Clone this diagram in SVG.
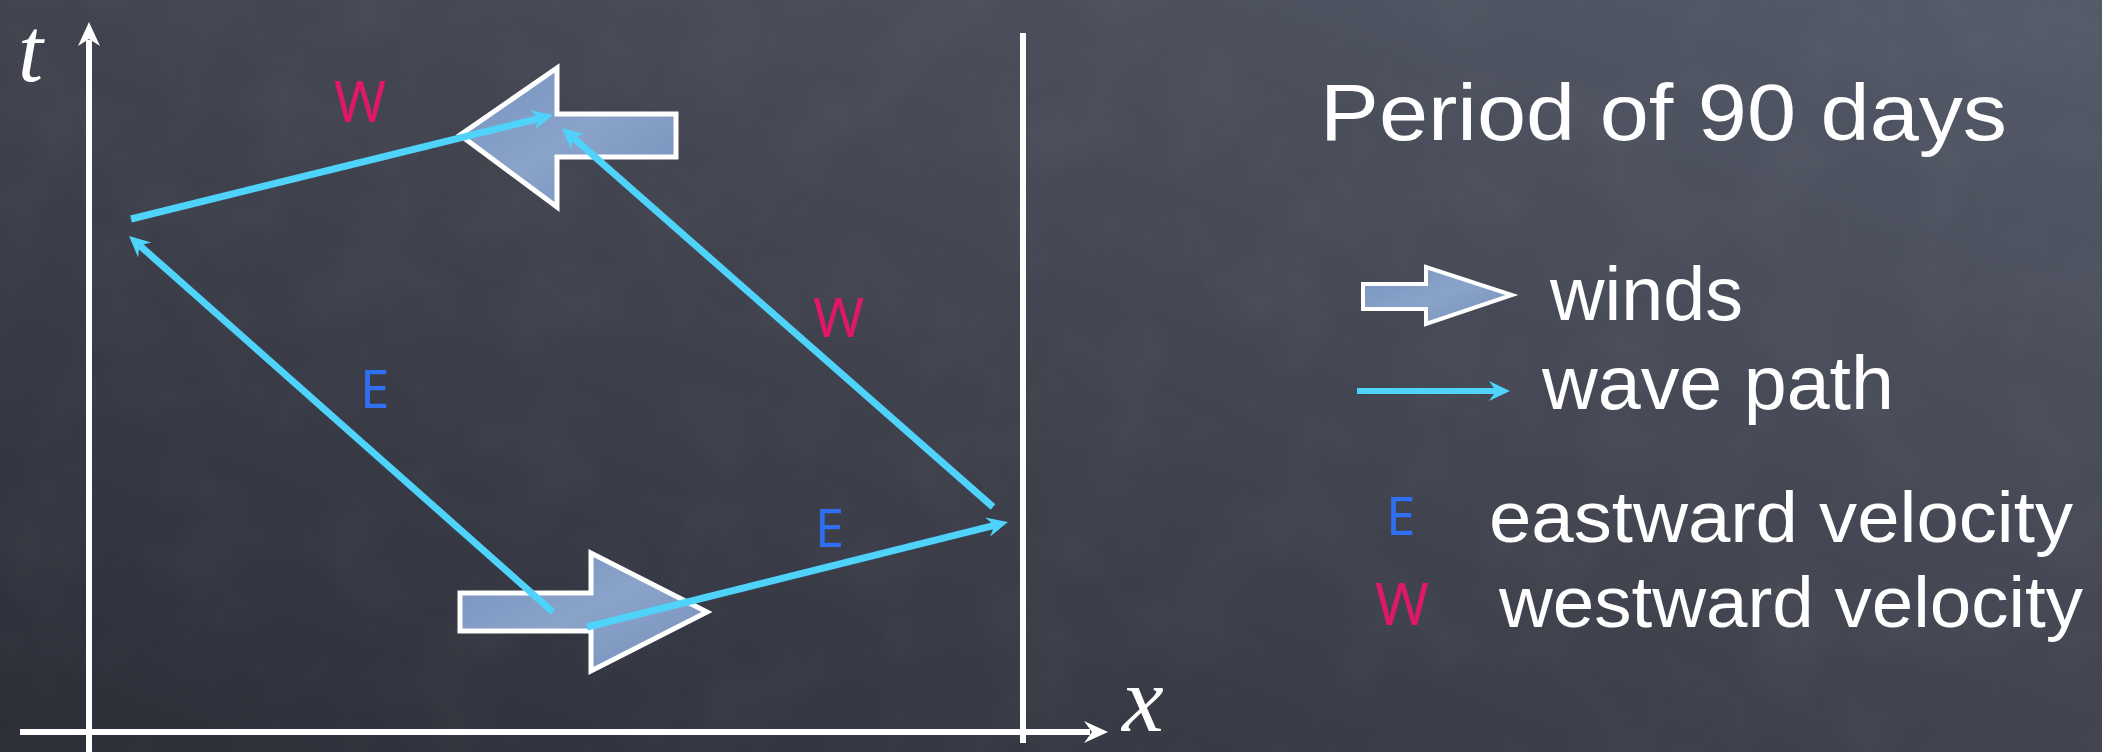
<svg xmlns="http://www.w3.org/2000/svg" width="2102" height="752" viewBox="0 0 2102 752">
<style>
.axis{stroke:#ffffff;stroke-width:6;fill:none}
.wave{stroke:#4fd3fb;stroke-width:7;fill:none;marker-end:url(#wh)}
.wind{fill:url(#wg);stroke:#ffffff;stroke-width:5;stroke-linejoin:miter}
.lbl{font-family:"Noto Sans","DejaVu Sans",sans-serif}
.txt{font-family:"Liberation Sans","Noto Sans",sans-serif;fill:#ffffff}
.e{fill:#2f6ff2}
.w{fill:#e0176a}
.math{font-family:"Liberation Serif",serif;font-style:italic;fill:#ffffff}
</style>
<defs>
<linearGradient id="bg" x1="1" y1="0" x2="0" y2="1">
<stop offset="0" stop-color="#555a69"/>
<stop offset="0.5" stop-color="#41444f"/>
<stop offset="1" stop-color="#2b2d37"/>
</linearGradient>
<linearGradient id="wg" x1="0" y1="0" x2="1" y2="1">
<stop offset="0" stop-color="#7592bf"/>
<stop offset="0.5" stop-color="#8aa3c9"/>
<stop offset="1" stop-color="#7590bb"/>
</linearGradient>
<filter id="chalk" x="0" y="0" width="1" height="1">
<feTurbulence type="fractalNoise" baseFrequency="0.012" numOctaves="4" seed="3"/>
<feColorMatrix type="matrix" values="0 0 0 0 1  0 0 0 0 1  0 0 0 0 1  0.5 0 0 0 -0.2"/>
</filter>
<marker id="wh" markerUnits="userSpaceOnUse" viewBox="-8 -12 24 24" refX="0" refY="0" markerWidth="24" markerHeight="24" orient="auto">
<path d="M-7,-10 L14,0 L-7,10 L0,0 Z" fill="#4fd3fb"/>
</marker>
</defs>
<rect width="2102" height="752" fill="url(#bg)"/>
<rect width="2102" height="752" filter="url(#chalk)" opacity="0.12"/>

<g id="axes">
<line class="axis" x1="89" y1="40" x2="89" y2="752"/>
<path d="M89,22 L100,46 L89,39 L78,46 Z" fill="#ffffff"/>
<line class="axis" x1="20" y1="732" x2="1090" y2="732"/>
<path d="M1108,732 L1084,743 L1092,732 L1084,721 Z" fill="#ffffff"/>
<line class="axis" x1="1023" y1="33" x2="1023" y2="743"/>
<text class="math" x="18" y="81" font-size="90">t</text>
<text class="math" x="1122" y="731" font-size="94">x</text>
</g>

<g id="wind-west">
<polygon class="wind" points="460,135 557,68 557,114 676,114 676,157 557,157 557,207"/>
</g>
<g id="wind-east">
<polygon class="wind" points="460,593 591,593 591,553 707,612 591,671 591,631 460,631"/>
</g>

<g id="connectors">
<line class="wave" x1="131" y1="219" x2="539.4" y2="118.3"/>
<line class="wave" x1="553" y1="612" x2="139.5" y2="245.3"/>
<line class="wave" x1="587" y1="627" x2="994.4" y2="525.4"/>
<line class="wave" x1="993" y1="507" x2="572.5" y2="137.2"/>
</g>

<g id="path-labels">
<text class="lbl w" x="334" y="122" font-size="56">W</text>
<text class="lbl w" x="813" y="337" font-size="55">W</text>
<text class="lbl e" x="360" y="408" font-size="53">E</text>
<text class="lbl e" x="815" y="547" font-size="52">E</text>
</g>

<g id="legend">
<text class="txt" x="1320" y="140" font-size="80" textLength="687" lengthAdjust="spacingAndGlyphs">Period of 90 days</text>
<polygon points="1363,284 1426,284 1426,267 1512,295 1426,324 1426,309 1363,309" fill="url(#wg)" stroke="#ffffff" stroke-width="4"/>
<text class="txt" x="1550" y="320" font-size="76" textLength="193" lengthAdjust="spacingAndGlyphs">winds</text>
<line x1="1357" y1="391" x2="1496" y2="391" stroke="#4fd3fb" stroke-width="6" marker-end="url(#wh)"/>
<text class="txt" x="1542" y="409" font-size="76" textLength="352" lengthAdjust="spacingAndGlyphs">wave path</text>
<text class="lbl e" x="1386" y="535" font-size="53">E</text>
<text class="txt" x="1489" y="542" font-size="72" textLength="584" lengthAdjust="spacingAndGlyphs">eastward velocity</text>
<text class="lbl w" x="1375" y="625" font-size="58">W</text>
<text class="txt" x="1499" y="627" font-size="72" textLength="584" lengthAdjust="spacingAndGlyphs">westward velocity</text>
</g>
</svg>
